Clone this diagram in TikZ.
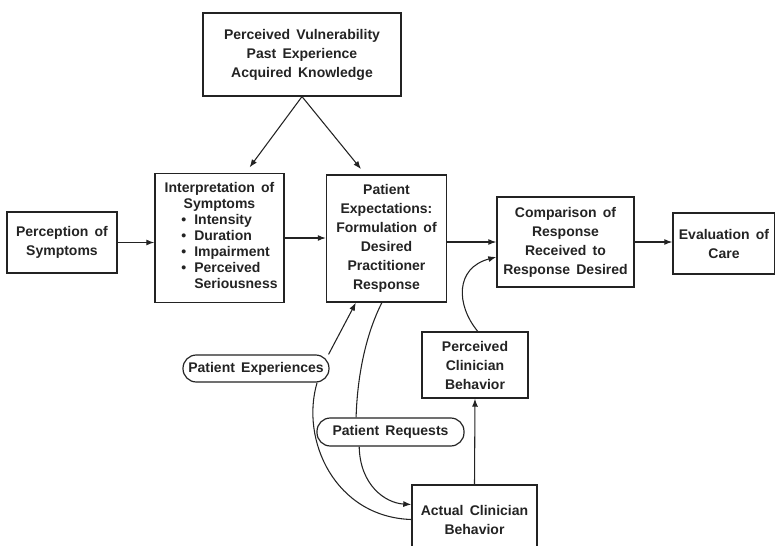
\documentclass[tikz,border=0pt]{standalone}
\usepackage{fontspec}
\setmainfont{Liberation Sans}[WordSpace=1.6]
\usepackage{xcolor}
\usepackage{tikz}
\usetikzlibrary{
    positioning,
    arrows.meta,
    calc
}
\definecolor{inkGray}{RGB}{35, 35, 35}

\begin{document}
\begin{tikzpicture}[x=0.75pt, y=-0.75pt,
        box/.style={draw=inkGray, text=inkGray, line width=1.1pt, align=center, inner sep=2pt,
            font=\bfseries\fontsize{10.5}{14.25}\selectfont},
        pill/.style={box, line width=0.9pt, rounded corners=10pt},
        link/.style={draw=inkGray, line width=0.8pt},
        arr/.style={link, -{Latex[length=6pt, width=4.5pt]}}]
            \useasboundingbox (0, 0) rectangle (775, 546);
            
            % Boxes
            \node[box, minimum width=148.5pt, minimum height=62pt] (vuln) at (302, 54.5)
                {Perceived Vulnerability\\Past Experience\\Acquired Knowledge};
            \node[box, minimum width=82.5pt, minimum height=45.75pt] (percep) at (62, 242.5)
                {Perception of\\Symptoms};
            \node[box, minimum width=96.75pt, minimum height=96.75pt,
                font=\bfseries\fontsize{10.5}{12}\selectfont] (interp) at (219.5, 238)
                {Interpretation of\\Symptoms\\
                 \begin{tabular}[t]{@{\hspace{15pt}}l@{\hspace{6pt}}l@{}}
                     \textbullet & Intensity\\
                     \textbullet & Duration\\
                     \textbullet & Impairment\\
                     \textbullet & Perceived\\
                                 & Seriousness
                 \end{tabular}};
            \node[box, minimum width=90pt, minimum height=95.25pt] (expect) at (386.5, 238.5)
                {Patient\\Expectations:\\Formulation of\\Desired\\Practitioner\\Response};
            \node[box, minimum width=102.75pt, minimum height=67.5pt] (compar) at (565.5, 242)
                {Comparison of\\Response\\Received to\\Response Desired};
            \node[box, minimum width=76.5pt, minimum height=45.75pt] (evalc) at (724, 243.5)
                {Evaluation of\\Care};
            \node[box, minimum width=79.5pt, minimum height=49.5pt] (percl) at (475, 365)
                {Perceived\\Clinician\\Behavior};
            \node[box, minimum width=93.75pt, minimum height=51.75pt] (actcl) at (474.5, 519.5)
                {Actual Clinician\\Behavior};
            
            % Rounded labels on the curves
            \node[pill, minimum width=109.5pt, minimum height=20.25pt] (pexp) at (256, 368.5)
                {Patient Experiences};
            \node[pill, minimum width=110.25pt, minimum height=21pt] (preq) at (390.5, 432)
                {Patient Requests};
            
            % Main row
            \draw[arr, shorten >=5pt] (vuln.south) -- ($(interp.north)!0.4!(interp.north east)$);
            \draw[arr, shorten >=5pt] (vuln.south) -- ($(expect.north)!0.35!(expect.north west)$);
            \draw[arr] (percep.east) -- (percep.east -| interp.west);
            \draw[arr] (interp.east) -- (interp.east -| expect.west);
            \draw[arr] (expect.east |- compar.west) -- (compar.west);
            \draw[arr] (compar.east) -- (compar.east -| evalc.west);
            
            % Clinician loop
            \draw[arr] (actcl.north) -- (percl.south);
            \draw[arr] ([xshift=2pt]percl.north) .. controls (456, 305) and (455, 268) .. ($(compar.west)+(0, 15)$);
            
            % Patient experiences
            \draw[link] (actcl.west) .. controls (335, 517) and (300, 440) .. (pexp.-13);
            \draw[arr] (pexp.11) -- ([xshift=-23pt]expect.south);
            
            % Patient requests
            \draw[link] ([xshift=-3.5pt]expect.south) .. controls (363, 340) and (357, 385) .. (preq.157);
            \draw[arr] (preq.205) .. controls (360, 485) and (385, 503) .. ($(actcl.west)+(0, -15)$);
        \end{tikzpicture}
\end{document}
